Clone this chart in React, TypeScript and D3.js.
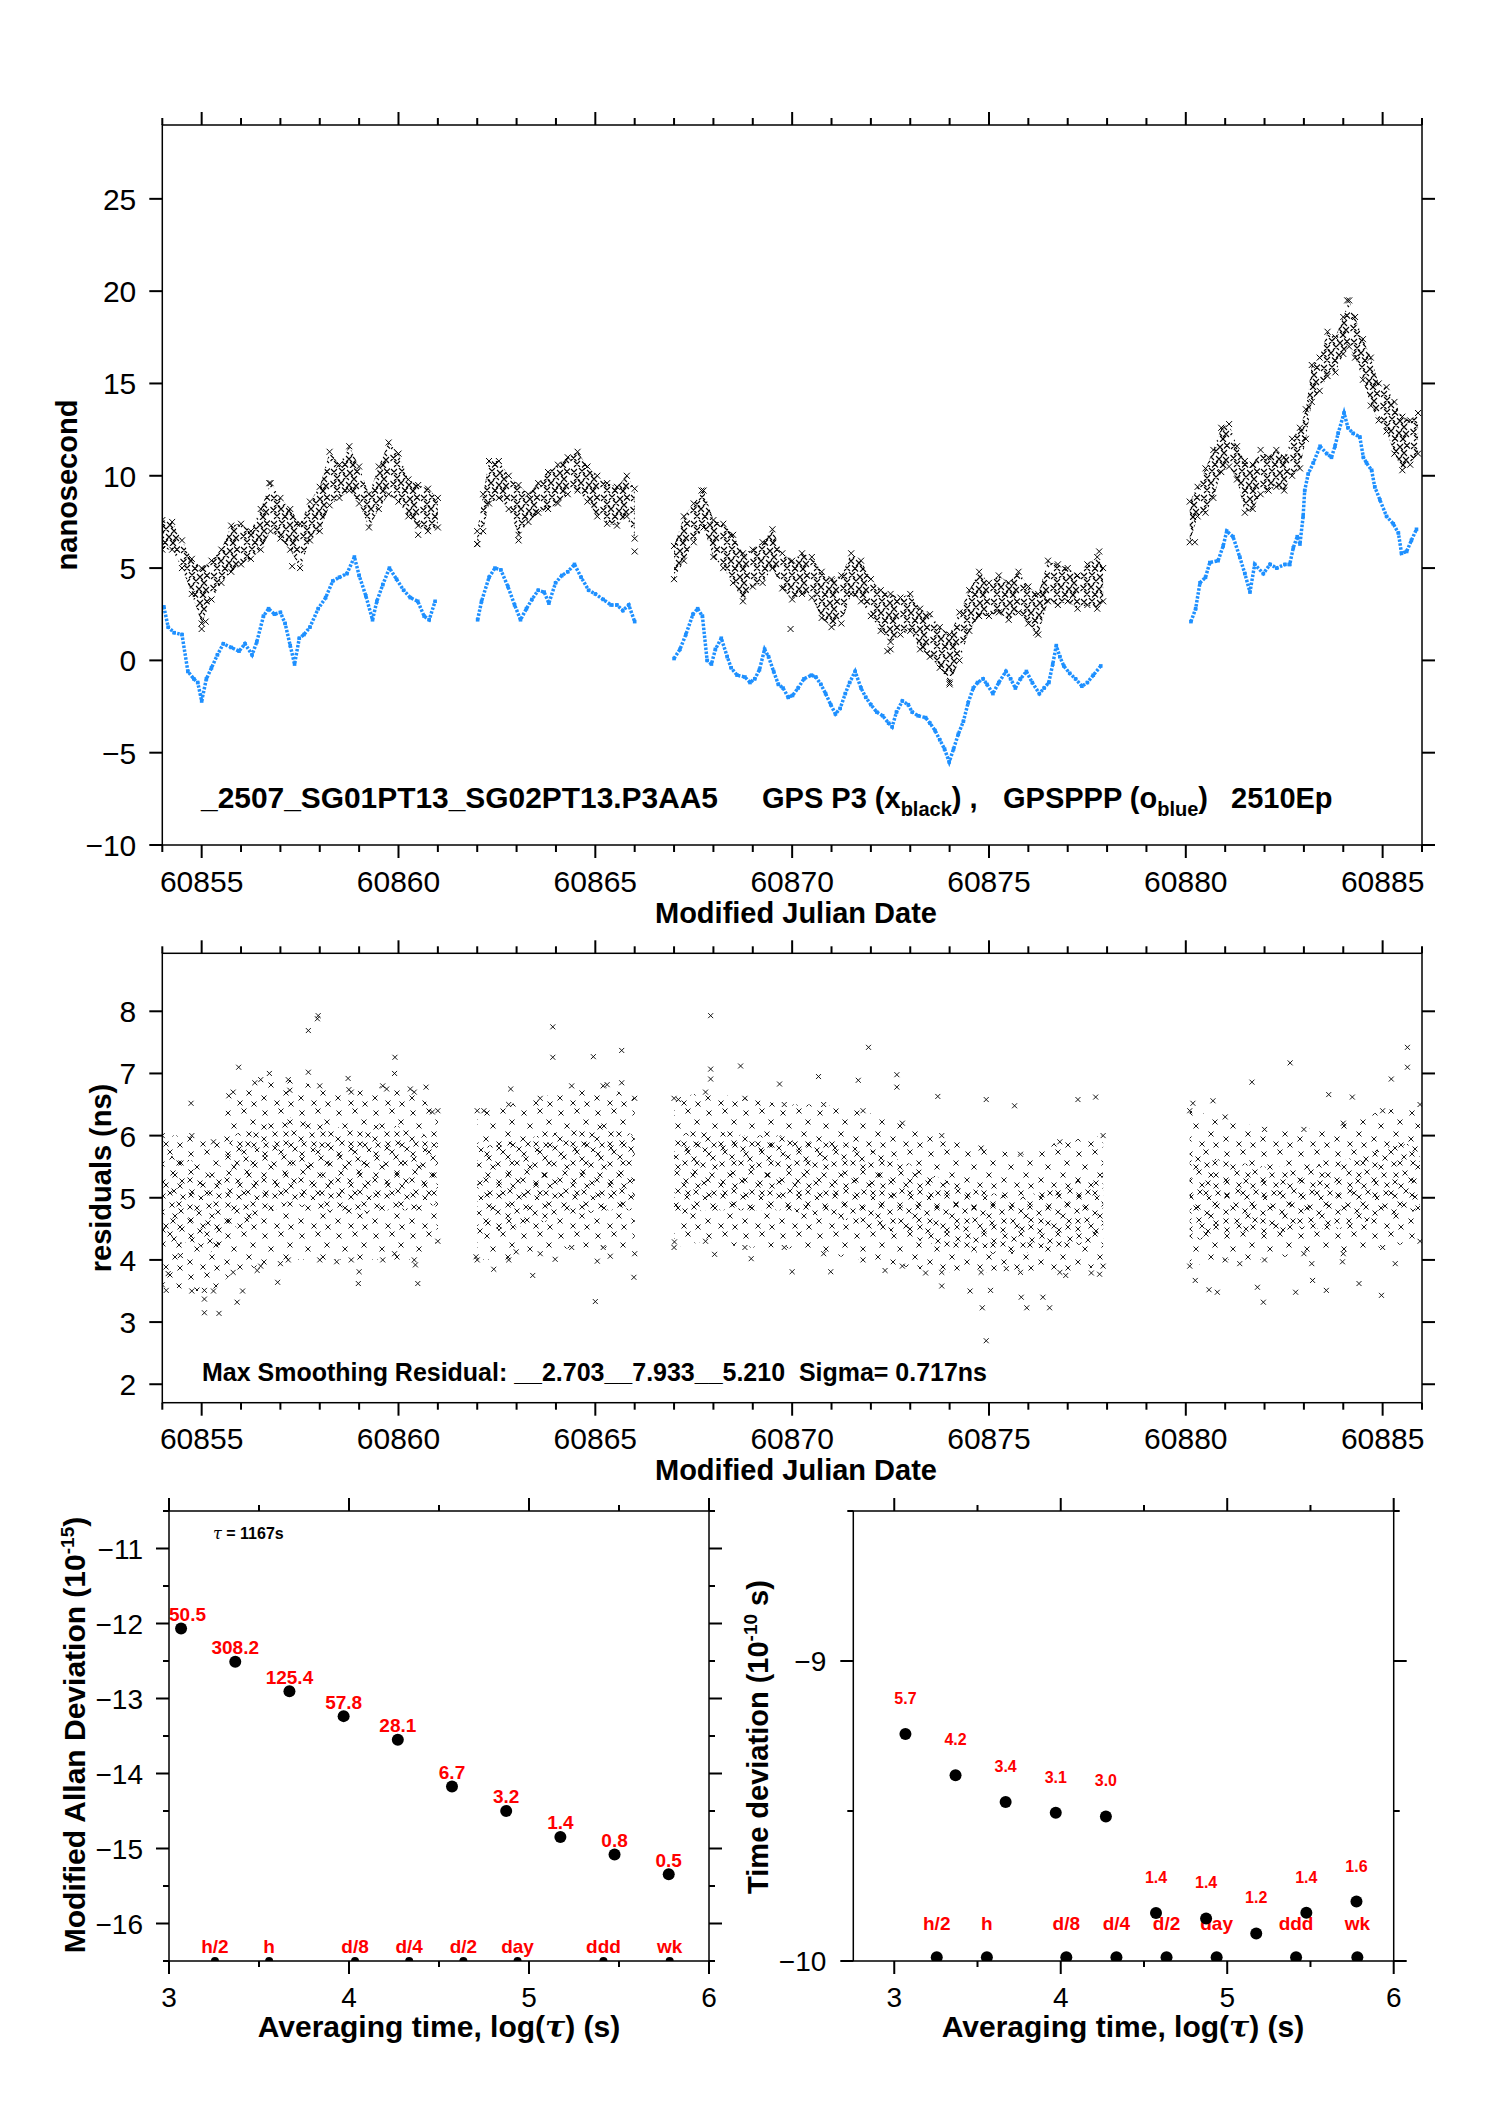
import React from "react";
import * as d3 from "d3";

const W = 1488;
const H = 2105;
const FONT = "'Liberation Sans', Arial, Helvetica, sans-serif";
const RED = "#ff0000";
const BLUE = "#1e90ff";

// ---------- data ----------
// data segments (MJD boundaries between gaps)
const dataSegments: [number, number][] = [
  [60853.9, 60861.5],
  [60861.5, 60866.5],
  [60866.5, 60879.0],
  [60879.0, 60887.0],
];

// GPSPPP (blue) trend, [MJD, ns]
const blueSeries: [number, number][] = [
  [60854.04, 2.9], [60854.15, 1.8], [60854.3, 1.5], [60854.5, 1.4], [60854.65, -0.6], [60854.8, -1.0],
  [60854.9, -1.2], [60855.0, -2.2], [60855.12, -1.0], [60855.25, -0.4], [60855.4, 0.3], [60855.55, 0.9],
  [60855.75, 0.7], [60855.95, 0.5], [60856.1, 0.9], [60856.28, 0.3], [60856.4, 1.0], [60856.57, 2.4],
  [60856.7, 2.8], [60856.85, 2.5], [60857.0, 2.6], [60857.12, 2.0], [60857.25, 0.8], [60857.36, -0.2],
  [60857.48, 1.2], [60857.6, 1.4], [60857.75, 1.8], [60857.96, 2.8], [60858.15, 3.4], [60858.33, 4.3],
  [60858.5, 4.5], [60858.69, 4.7], [60858.88, 5.6], [60859.0, 4.6], [60859.17, 3.5], [60859.34, 2.2],
  [60859.45, 3.2], [60859.6, 4.1], [60859.77, 5.0], [60859.95, 4.4], [60860.13, 3.8], [60860.3, 3.4],
  [60860.49, 3.2], [60860.65, 2.4], [60860.78, 2.2], [60860.93, 3.2],
  [60862.01, 2.2], [60862.11, 3.2], [60862.3, 4.5], [60862.45, 5.0], [60862.6, 4.9], [60862.78, 4.0],
  [60862.95, 3.0], [60863.1, 2.2], [60863.25, 2.8], [60863.39, 3.3], [60863.55, 3.8], [60863.7, 3.7],
  [60863.82, 3.1], [60863.99, 4.2], [60864.15, 4.6], [60864.3, 4.8], [60864.47, 5.2], [60864.64, 4.5],
  [60864.83, 3.8], [60865.0, 3.6], [60865.2, 3.3], [60865.4, 3.0], [60865.55, 3.0], [60865.7, 2.7],
  [60865.85, 3.0], [60866.0, 2.1],
  [60867.0, 0.1], [60867.15, 0.6], [60867.3, 1.4], [60867.48, 2.5], [60867.6, 2.8], [60867.72, 2.4],
  [60867.84, 0.0], [60867.95, -0.2], [60868.05, 0.6], [60868.2, 1.2], [60868.35, 0.2], [60868.45, -0.4],
  [60868.6, -0.8], [60868.8, -0.9], [60868.93, -1.2], [60869.05, -1.0], [60869.17, -0.5], [60869.3, 0.6],
  [60869.4, 0.2], [60869.53, -0.6], [60869.65, -1.3], [60869.77, -1.5], [60869.9, -2.0], [60870.01, -1.9],
  [60870.15, -1.5], [60870.3, -1.0], [60870.49, -0.8], [60870.6, -0.9], [60870.73, -1.3], [60870.85, -1.8],
  [60870.98, -2.4], [60871.1, -2.9], [60871.22, -2.6], [60871.35, -1.8], [60871.46, -1.2], [60871.6, -0.6],
  [60871.75, -1.5], [60871.87, -2.0], [60872.0, -2.4], [60872.15, -2.8], [60872.3, -3.0], [60872.45, -3.4],
  [60872.54, -3.6], [60872.65, -2.8], [60872.8, -2.2], [60872.95, -2.4], [60873.05, -2.8], [60873.2, -3.0],
  [60873.39, -3.1], [60873.5, -3.4], [60873.63, -3.8], [60873.75, -4.3], [60873.87, -4.8], [60873.99, -5.5],
  [60874.1, -4.8], [60874.22, -4.0], [60874.35, -3.3], [60874.47, -2.3], [60874.6, -1.5], [60874.71, -1.2],
  [60874.85, -1.0], [60874.95, -1.3], [60875.1, -1.8], [60875.25, -1.2], [60875.43, -0.6], [60875.55, -1.0],
  [60875.67, -1.5], [60875.8, -1.0], [60875.95, -0.6], [60876.1, -1.2], [60876.28, -1.8], [60876.4, -1.5],
  [60876.52, -1.2], [60876.62, -0.2], [60876.71, 0.8], [60876.8, 0.2], [60876.9, -0.3], [60877.05, -0.7],
  [60877.2, -1.0], [60877.36, -1.4], [60877.5, -1.2], [60877.65, -0.8], [60877.84, -0.3],
  [60880.13, 2.1], [60880.25, 2.8], [60880.36, 4.2], [60880.5, 4.5], [60880.61, 5.3], [60880.82, 5.4],
  [60880.95, 6.2], [60881.04, 7.0], [60881.2, 6.7], [60881.37, 5.6], [60881.5, 4.7], [60881.63, 3.7],
  [60881.75, 5.2], [60881.97, 4.7], [60882.14, 5.2], [60882.31, 5.0], [60882.52, 5.2], [60882.64, 5.2],
  [60882.73, 6.1], [60882.83, 6.7], [60882.9, 6.3], [60882.98, 7.8], [60883.02, 9.2], [60883.11, 10.1],
  [60883.24, 10.7], [60883.41, 11.6], [60883.58, 11.2], [60883.7, 11.0], [60883.79, 11.6], [60883.87, 12.3],
  [60884.02, 13.4], [60884.12, 12.6], [60884.25, 12.3], [60884.42, 12.1], [60884.51, 11.0], [60884.59, 10.7],
  [60884.72, 10.3], [60884.8, 9.4], [60884.93, 8.7], [60885.1, 7.8], [60885.27, 7.4], [60885.4, 6.9],
  [60885.48, 5.8], [60885.61, 5.9], [60885.73, 6.5], [60885.86, 7.1],
];

// GPS P3 (black) cloud envelope, [MJD, upper ns, lower ns]
const blackBand: [number, number, number][] = [
  [60854.0, 7.6, 6.0], [60854.25, 7.5, 6.0], [60854.5, 6.5, 5.0], [60854.75, 5.5, 3.6], [60855.0, 5.0, 2.0],
  [60855.25, 5.4, 3.3], [60855.5, 6.0, 4.2], [60855.75, 7.3, 4.8], [60856.0, 7.4, 5.2], [60856.25, 7.0, 5.5],
  [60856.5, 8.2, 6.0], [60856.75, 9.6, 7.0], [60857.0, 8.8, 6.6], [60857.25, 8.2, 6.0], [60857.5, 7.4, 5.0],
  [60857.75, 8.6, 6.5], [60858.0, 9.4, 7.0], [60858.25, 11.3, 8.4], [60858.5, 10.6, 8.8], [60858.75, 11.6, 9.2],
  [60859.0, 10.5, 8.5], [60859.25, 9.0, 7.2], [60859.5, 10.5, 8.2], [60859.75, 11.8, 9.0], [60860.0, 11.2, 8.6],
  [60860.25, 9.8, 7.8], [60860.5, 9.5, 7.3], [60860.75, 9.3, 7.0], [60861.0, 8.8, 7.2],
  [60862.0, 7.0, 6.3], [60862.15, 9.0, 7.0], [60862.3, 10.8, 8.5], [60862.55, 10.8, 8.8], [60862.8, 10.0, 8.2],
  [60863.05, 9.5, 6.8], [60863.3, 9.0, 7.5], [60863.55, 9.6, 8.0], [60863.8, 10.2, 8.2], [60864.05, 10.6, 8.5],
  [60864.3, 11.0, 9.0], [60864.55, 11.3, 9.2], [60864.8, 10.5, 8.6], [60865.05, 10.0, 7.8], [60865.3, 9.6, 7.4],
  [60865.55, 9.4, 7.3], [60865.8, 10.0, 7.8], [60866.0, 9.3, 6.6],
  [60867.0, 6.2, 4.4], [60867.25, 7.8, 5.4], [60867.5, 8.5, 6.4], [60867.75, 9.2, 7.2], [60868.0, 7.6, 5.6],
  [60868.25, 7.4, 5.0], [60868.5, 6.8, 4.2], [60868.75, 5.8, 3.2], [60869.0, 6.0, 4.0], [60869.25, 6.4, 4.2],
  [60869.5, 7.1, 5.0], [60869.75, 5.8, 3.9], [60870.0, 5.4, 3.3], [60870.25, 5.8, 3.6], [60870.5, 5.6, 3.4],
  [60870.75, 4.8, 2.3], [60871.0, 4.4, 1.8], [60871.25, 4.6, 2.0], [60871.5, 5.8, 3.6], [60871.75, 5.4, 3.2],
  [60872.0, 4.4, 2.4], [60872.25, 3.8, 1.6], [60872.5, 3.6, 1.0], [60872.75, 3.4, 1.4], [60873.0, 3.6, 1.6],
  [60873.25, 2.8, 0.6], [60873.5, 2.5, 0.2], [60873.75, 1.8, -0.4], [60874.0, 1.4, -1.2], [60874.25, 2.6, 0.0],
  [60874.5, 3.8, 1.6], [60874.75, 4.8, 2.4], [60875.0, 4.2, 2.4], [60875.25, 4.6, 2.6], [60875.5, 4.2, 2.2],
  [60875.75, 4.8, 2.6], [60876.0, 4.0, 2.0], [60876.25, 3.6, 1.4], [60876.5, 5.4, 3.2], [60876.75, 5.2, 3.0],
  [60877.0, 5.0, 3.2], [60877.25, 4.6, 2.8], [60877.5, 5.2, 3.0], [60877.75, 5.6, 2.8], [60877.9, 5.0, 3.2],
  [60880.1, 8.6, 6.4], [60880.3, 9.4, 7.8], [60880.5, 10.4, 8.0], [60880.7, 11.4, 8.8], [60880.9, 12.6, 10.2],
  [60881.1, 12.8, 10.5], [60881.3, 11.6, 9.8], [60881.5, 10.8, 8.0], [60881.7, 10.6, 8.2], [60881.9, 11.4, 9.0],
  [60882.1, 11.0, 9.2], [60882.3, 11.4, 9.4], [60882.5, 11.0, 9.2], [60882.7, 12.0, 10.0], [60882.9, 12.6, 10.4],
  [60883.05, 13.6, 12.0], [60883.2, 16.0, 14.0], [60883.4, 16.4, 14.6], [60883.6, 17.8, 15.4], [60883.8, 17.5, 15.6],
  [60884.0, 18.6, 16.6], [60884.15, 19.5, 17.0], [60884.3, 18.6, 16.4], [60884.5, 17.4, 15.2], [60884.7, 16.4, 13.8],
  [60884.9, 15.0, 13.0], [60885.1, 14.8, 12.4], [60885.3, 14.0, 11.2], [60885.5, 13.2, 10.3], [60885.7, 13.0, 10.6],
  [60885.9, 13.4, 11.2],
];

// isolated black crosses outside the cloud, [MJD, ns]
const blackOutliers: [number, number][] = [
  [60855.0, 1.7], [60855.1, 2.1], [60857.3, 5.1], [60862.0, 6.3], [60863.05, 6.5], [60866.0, 5.9],
  [60869.96, 1.7], [60872.42, 0.5], [60872.5, 0.6], [60874.0, -1.3], [60876.2, 1.5], [60877.8, 5.9],
  [60884.1, 19.5], [60880.23, 6.4], [60856.72, 9.6], [60860.5, 6.8], [60867.7, 9.2],
];

// residual cloud, [MJD, outer upper, core upper, core lower, outer lower]
const residualBand: [number, number, number, number, number][] = [
  [60854.0, 6.0, 5.7, 4.2, 3.6], [60854.75, 6.0, 5.6, 4.3, 3.5], [60855.3, 5.9, 5.3, 4.1, 3.5],
  [60855.8, 6.7, 6.0, 4.5, 3.8], [60856.5, 6.9, 6.2, 4.7, 3.9], [60857.2, 6.9, 6.3, 4.9, 4.0],
  [60858.0, 6.8, 6.2, 4.8, 4.0], [60858.8, 6.7, 6.1, 4.7, 4.0], [60859.6, 6.8, 6.2, 4.8, 4.0],
  [60860.4, 6.7, 6.1, 4.8, 4.0], [60861.0, 6.4, 5.9, 4.9, 4.3],
  [60862.0, 6.4, 5.8, 4.4, 4.0], [60862.8, 6.5, 5.9, 4.5, 4.0], [60863.6, 6.6, 6.0, 4.6, 4.1],
  [60864.4, 6.8, 6.1, 4.7, 4.2], [60865.2, 6.8, 6.2, 4.8, 4.2], [60866.0, 6.6, 6.0, 4.8, 4.1],
  [60867.0, 6.6, 6.0, 4.7, 4.2], [60867.8, 6.7, 6.1, 4.8, 4.3], [60868.8, 6.6, 6.0, 4.8, 4.2],
  [60869.8, 6.5, 6.0, 4.8, 4.2], [60870.8, 6.5, 5.9, 4.7, 4.1], [60871.8, 6.4, 5.8, 4.6, 4.0],
  [60872.8, 6.2, 5.6, 4.4, 3.9], [60873.8, 6.0, 5.3, 4.2, 3.8], [60874.8, 5.8, 5.1, 4.1, 3.8],
  [60875.8, 5.7, 5.0, 4.1, 3.8], [60876.8, 5.9, 5.2, 4.2, 3.8], [60877.9, 6.0, 5.4, 4.3, 3.9],
  [60880.1, 6.4, 5.7, 4.3, 3.9], [60881.0, 6.3, 5.6, 4.4, 4.0], [60882.0, 6.1, 5.5, 4.4, 4.0],
  [60883.0, 6.1, 5.5, 4.5, 4.1], [60884.0, 6.2, 5.6, 4.5, 4.1], [60885.0, 6.4, 5.8, 4.7, 4.2],
  [60885.95, 6.5, 5.9, 4.8, 4.3],
];

// individually visible residual crosses, [MJD, ns]
const residualOutliers: [number, number][] = [
  [60854.73, 6.52], [60854.1, 3.51], [60855.07, 3.51], [60855.07, 3.37], [60855.07, 3.15], [60855.44, 3.14],
  [60855.94, 7.1], [60855.69, 6.64], [60856.35, 6.85], [60856.72, 7.0], [60857.24, 6.73], [60857.71, 7.02],
  [60857.71, 7.69], [60857.94, 7.88], [60857.96, 7.93], [60858.72, 6.92], [60858.74, 6.74], [60859.91, 7.26],
  [60859.9, 7.0], [60859.7, 6.75], [60860.3, 6.75], [60860.7, 6.78], [60860.86, 6.38], [60855.9, 3.32],
  [60856.04, 3.5], [60856.41, 3.83], [60856.93, 3.64], [60857.0, 3.94], [60858.98, 3.62], [60859.0, 3.81],
  [60860.49, 3.62], [60860.43, 3.92], [60858.43, 3.97], [60859.9, 4.1], [60854.46, 4.07], [60854.15, 3.78],
  [60863.92, 7.75], [60863.92, 7.26], [60864.95, 7.27], [60865.67, 7.37], [60865.3, 6.82], [60865.67, 6.85],
  [60862.85, 6.75], [60862.17, 6.4], [60863.41, 3.75], [60865.0, 3.33], [60865.98, 3.72], [60862.42, 3.85],
  [60861.97, 4.05], [60862.99, 4.13], [60863.98, 4.01], [60865.05, 3.98], [60865.38, 4.06],
  [60867.93, 7.93], [60867.93, 7.07], [60867.93, 6.91], [60868.69, 7.12], [60869.68, 6.83], [60870.67, 6.95],
  [60871.68, 6.89], [60871.94, 7.42], [60872.66, 6.98], [60872.66, 6.78], [60873.7, 6.63], [60874.93, 6.58],
  [60875.65, 6.48], [60877.26, 6.58], [60877.71, 6.62], [60867.11, 6.58], [60870.0, 3.81], [60870.98, 3.81],
  [60872.36, 3.83], [60873.8, 3.58], [60874.52, 3.5], [60874.83, 3.23], [60874.93, 2.7], [60875.04, 3.51],
  [60875.82, 3.4], [60875.96, 3.23], [60876.37, 3.4], [60876.54, 3.23], [60876.95, 3.75], [60877.6, 3.79],
  [60868.03, 4.09], [60868.96, 4.02], [60873.39, 3.79], [60875.44, 3.86], [60877.81, 3.77], [60867.01, 4.29],
  [60880.18, 6.52], [60880.69, 6.56], [60881.68, 6.86], [60882.65, 7.17], [60883.63, 6.66], [60884.23, 6.62],
  [60885.22, 6.91], [60885.63, 7.42], [60885.63, 7.1], [60880.24, 3.67], [60880.59, 3.52], [60880.8, 3.48],
  [60881.82, 3.56], [60881.97, 3.32], [60882.79, 3.48], [60883.22, 3.67], [60883.57, 3.51], [60884.4, 3.62],
  [60884.97, 3.43], [60885.32, 3.94], [60881.37, 3.94], [60883.2, 3.94], [60883.98, 3.97],
];

// stability analysis
const tauSeconds = [1167, 2334, 4668, 9336, 18672, 37344, 74688, 149376, 298752, 597504];
const mdevLog = [-12.068, -12.511, -12.902, -13.235, -13.55, -14.174, -14.499, -14.846, -15.08, -15.342];
const mdevLabels = ["50.5", "308.2", "125.4", "57.8", "28.1", "6.7", "3.2", "1.4", "0.8", "0.5"];
const tdevLog = [-9.243, -9.381, -9.47, -9.506, -9.518, -9.84, -9.858, -9.908, -9.839, -9.802];
const tdevLabels = ["5.7", "4.2", "3.4", "3.1", "3.0", "1.4", "1.4", "1.2", "1.4", "1.6"];
const markerTau = [1800, 3600, 10800, 21600, 43200, 86400, 259200, 604800];
const markerLabels = ["h/2", "h", "d/8", "d/4", "d/2", "day", "ddd", "wk"];

// tick values
const mjdMajor = [60855, 60860, 60865, 60870, 60875, 60880, 60885];
const mjdMinor = d3.range(60854, 60887, 1).filter((v) => !mjdMajor.includes(v));
const nsMajor = [-10, -5, 0, 5, 10, 15, 20, 25];
const resMajor = [2, 3, 4, 5, 6, 7, 8];
const logMajor = [3, 4, 5, 6];
const logMinor = [3.5, 4.5, 5.5];
const mdevMajor = [-16, -15, -14, -13, -12, -11];
const mdevMinor = [-16.5, -15.5, -14.5, -13.5, -12.5, -11.5, -10.5];
const tdevMajor = [-10, -9];
const tdevMinor = [-9.5, -8.5];

// ---------- texture tiles used to render the dense cross clouds ----------
const PAT_BLACK = [
  [4, 4], [12, 3], [20, 5], [27, 3.5], [7, 10], [16, 9], [24, 11], [3.5, 16], [11, 15],
  [19, 17], [26, 18], [7, 22], [15, 22.5], [23, 23],
];
const PAT_RES_CORE = [
  [4, 5], [22, 7], [41, 6], [13, 11], [31, 13], [50, 12], [5, 21], [23, 20], [40, 23],
  [14, 29], [32, 31], [51, 30], [6, 39], [24, 40], [42, 41], [15, 45], [33, 46], [51, 44],
];
const PAT_RES_OUTER = [[6, 6], [22, 4], [31, 15], [12, 19], [27, 27], [5, 32], [18, 37], [32, 38]];

const cross = (cx: number, cy: number, h: number) =>
  `M${cx - h},${cy - h}L${cx + h},${cy + h}M${cx - h},${cy + h}L${cx + h},${cy - h}`;

function groupBySegment<T extends number[]>(rows: T[]): T[][] {
  const groups: T[][] = dataSegments.map(() => []);
  rows.forEach((r) => {
    const s = dataSegments.findIndex(([a, b]) => r[0] >= a && r[0] < b);
    if (s >= 0) groups[s].push(r);
  });
  return groups.filter((g) => g.length > 0);
}

type AxesProps = {
  xs: d3.ScaleLinear<number, number>;
  ys: d3.ScaleLinear<number, number>;
  xMajor: number[];
  xMinor: number[];
  yMajor: number[];
  yMinor: number[];
  xFmt: (v: number) => string;
  yFmt: (v: number) => string;
  majorLen: number;
  minorLen: number;
  xLabelDy: number;
  yLabelDx: number;
  yLabelDy: number;
  labelSize: number;
};

function Axes(p: AxesProps) {
  const [xl, xr] = p.xs.range();
  const [yb, yt] = p.ys.range();
  const tk = { stroke: "#000", strokeWidth: 2 };
  return (
    <g>
      <rect x={xl} y={yt} width={xr - xl} height={yb - yt} fill="none" stroke="#000" strokeWidth={1.5} />
      {p.xMajor.map((v) => (
        <g key={"xM" + v}>
          <line x1={p.xs(v)} x2={p.xs(v)} y1={yb} y2={yb + p.majorLen} {...tk} />
          <line x1={p.xs(v)} x2={p.xs(v)} y1={yt} y2={yt - p.majorLen} {...tk} />
          <text x={p.xs(v)} y={yb + p.xLabelDy} textAnchor="middle" fontSize={p.labelSize} fontFamily={FONT}>
            {p.xFmt(v)}
          </text>
        </g>
      ))}
      {p.xMinor.map((v) => (
        <g key={"xm" + v}>
          <line x1={p.xs(v)} x2={p.xs(v)} y1={yb} y2={yb + p.minorLen} {...tk} />
          <line x1={p.xs(v)} x2={p.xs(v)} y1={yt} y2={yt - p.minorLen} {...tk} />
        </g>
      ))}
      {p.yMajor.map((v) => (
        <g key={"yM" + v}>
          <line x1={xl} x2={xl - p.majorLen} y1={p.ys(v)} y2={p.ys(v)} {...tk} />
          <line x1={xr} x2={xr + p.majorLen} y1={p.ys(v)} y2={p.ys(v)} {...tk} />
          <text x={xl - p.yLabelDx} y={p.ys(v) + p.yLabelDy} textAnchor="end" fontSize={p.labelSize} fontFamily={FONT}>
            {p.yFmt(v)}
          </text>
        </g>
      ))}
      {p.yMinor.map((v) => (
        <g key={"ym" + v}>
          <line x1={xl} x2={xl - p.minorLen} y1={p.ys(v)} y2={p.ys(v)} {...tk} />
          <line x1={xr} x2={xr + p.minorLen} y1={p.ys(v)} y2={p.ys(v)} {...tk} />
        </g>
      ))}
    </g>
  );
}

const clipRect = (id: string, xs: d3.ScaleLinear<number, number>, ys: d3.ScaleLinear<number, number>) => {
  const [xl, xr] = xs.range();
  const [yb, yt] = ys.range();
  return (
    <clipPath id={id} key={id}>
      <rect x={xl} y={yt} width={xr - xl} height={yb - yt} />
    </clipPath>
  );
};

export default function App() {
  const x1 = d3.scaleLinear().domain([60854, 60886]).range([162.3, 1422]);
  const y1 = d3.scaleLinear().domain([-10, 29]).range([845, 125]);
  const y2 = d3.scaleLinear().domain([1.703, 8.933]).range([1402.7, 953.3]);
  const x3 = d3.scaleLinear().domain([3, 6]).range([169, 709]);
  const y3 = d3.scaleLinear().domain([-16.5, -10.5]).range([1961, 1511]);
  const x4 = d3.scaleLinear().domain([2.754, 6]).range([853.3, 1393.7]);
  const y4 = d3.scaleLinear().domain([-10, -8.5]).range([1961, 1511]);

  const fmtInt = d3.format("d");

  const blueGroups = groupBySegment(blueSeries);
  const blackGroups = groupBySegment(blackBand);
  const resGroups = groupBySegment(residualBand);

  const blueLine = d3
    .line<[number, number]>()
    .x((d) => x1(d[0]))
    .y((d) => y1(d[1]));
  const blackArea = d3
    .area<[number, number, number]>()
    .x((d) => x1(d[0]))
    .y0((d) => y1(d[2]))
    .y1((d) => y1(d[1]));
  const resOuter = d3
    .area<[number, number, number, number, number]>()
    .x((d) => x1(d[0]))
    .y0((d) => y2(d[4]))
    .y1((d) => y2(d[1]));
  const resCore = d3
    .area<[number, number, number, number, number]>()
    .x((d) => x1(d[0]))
    .y0((d) => y2(d[3]))
    .y1((d) => y2(d[2]));

  const patPath = (pts: number[][], h: number) => pts.map(([a, b]) => cross(a, b, h)).join("");

  const logTau = tauSeconds.map((t) => Math.log10(t));
  const logMarker = markerTau.map((t) => Math.log10(t));

  return (
    <div style={{ position: "absolute", left: 0, top: 0, width: W, height: H, background: "#fff" }}>
      <svg width={W} height={H} viewBox={`0 0 ${W} ${H}`} style={{ display: "block", background: "#fff" }}>
        <defs>
          {clipRect("c1", x1, y1)}
          {clipRect("c2", x1, y2)}
          {clipRect("c3", x3, y3)}
          {clipRect("c4", x4, y4)}
          <pattern id="patBlack" patternUnits="userSpaceOnUse" width={30} height={26}>
            <path d={patPath(PAT_BLACK, 3)} stroke="#000" strokeWidth={1.1} fill="none" />
          </pattern>
          <pattern id="patResCore" patternUnits="userSpaceOnUse" width={56} height={48}>
            <path d={patPath(PAT_RES_CORE, 2.5)} stroke="#000" strokeWidth={0.9} fill="none" />
          </pattern>
          <pattern id="patResOuter" patternUnits="userSpaceOnUse" width={37} height={41}>
            <path d={patPath(PAT_RES_OUTER, 2.5)} stroke="#000" strokeWidth={0.9} fill="none" />
          </pattern>
        </defs>

        {/* ---------------- Panel 1 ---------------- */}
        <g clipPath="url(#c1)">
          {blackGroups.map((g, i) => (
            <path key={"ba" + i} d={blackArea(g) || ""} fill="url(#patBlack)" stroke="none" />
          ))}
          {blackBand.map((d, i) => (
            <g key={"bx" + i}>
              <path d={cross(x1(d[0]), y1(d[1]), 3)} stroke="#000" strokeWidth={1} />
              <path d={cross(x1(d[0]), y1(d[2]), 3)} stroke="#000" strokeWidth={1} />
            </g>
          ))}
          {blackOutliers.map((d, i) => (
            <path key={"bo" + i} d={cross(x1(d[0]), y1(d[1]), 3)} stroke="#000" strokeWidth={1} />
          ))}
          {blueGroups.map((g, i) => (
            <path
              key={"bl" + i}
              d={blueLine(g as [number, number][]) || ""}
              fill="none"
              stroke={BLUE}
              strokeWidth={3.5}
              strokeDasharray="2.5 1.5"
            />
          ))}
          {blueSeries.map((d, i) => (
            <rect key={"bs" + i} x={x1(d[0]) - 1.8} y={y1(d[1]) - 1.8} width={3.6} height={3.6} fill={BLUE} />
          ))}
        </g>
        <Axes
          xs={x1}
          ys={y1}
          xMajor={mjdMajor}
          xMinor={mjdMinor}
          yMajor={nsMajor}
          yMinor={[]}
          xFmt={fmtInt}
          yFmt={fmtInt}
          majorLen={13}
          minorLen={7}
          xLabelDy={47}
          yLabelDx={26}
          yLabelDy={11}
          labelSize={30}
        />
        <text x={201} y={808} fontFamily={FONT} fontWeight="bold" fontSize={29} textLength={517} lengthAdjust="spacingAndGlyphs">
          _2507_SG01PT13_SG02PT13.P3AA5
        </text>
        <text x={762} y={808} fontFamily={FONT} fontWeight="bold" fontSize={29} style={{ whiteSpace: "pre" }}>
          GPS P3 (x
          <tspan fontSize={20} dy={8}>
            black
          </tspan>
          <tspan dy={-8}>) ,</tspan>
        </text>
        <text x={1003} y={808} fontFamily={FONT} fontWeight="bold" fontSize={29} style={{ whiteSpace: "pre" }}>
          GPSPPP (o
          <tspan fontSize={20} dy={8}>
            blue
          </tspan>
          <tspan dy={-8}>)</tspan>
        </text>
        <text x={1231} y={808} fontFamily={FONT} fontWeight="bold" fontSize={29}>
          2510Ep
        </text>
        <text x={796} y={923} textAnchor="middle" fontFamily={FONT} fontWeight="bold" fontSize={29}>
          Modified Julian Date
        </text>
        <text transform="translate(77,485) rotate(-90)" textAnchor="middle" fontFamily={FONT} fontWeight="bold" fontSize={29}>
          nanosecond
        </text>

        {/* ---------------- Panel 2 ---------------- */}
        <g clipPath="url(#c2)">
          {resGroups.map((g, i) => (
            <g key={"rg" + i}>
              <path d={resOuter(g) || ""} fill="url(#patResOuter)" stroke="none" />
              <path d={resCore(g) || ""} fill="url(#patResCore)" stroke="none" />
            </g>
          ))}
          {residualBand.map((d, i) => (
            <g key={"rb" + i}>
              <path d={cross(x1(d[0]), y2(d[1]), 2.5)} stroke="#000" strokeWidth={0.9} />
              <path d={cross(x1(d[0]), y2(d[4]), 2.5)} stroke="#000" strokeWidth={0.9} />
            </g>
          ))}
          {residualOutliers.map((d, i) => (
            <path key={"ro" + i} d={cross(x1(d[0]), y2(d[1]), 2.5)} stroke="#000" strokeWidth={0.9} />
          ))}
        </g>
        <Axes
          xs={x1}
          ys={y2}
          xMajor={mjdMajor}
          xMinor={mjdMinor}
          yMajor={resMajor}
          yMinor={[]}
          xFmt={fmtInt}
          yFmt={fmtInt}
          majorLen={13}
          minorLen={7}
          xLabelDy={46.5}
          yLabelDx={26}
          yLabelDy={11}
          labelSize={30}
        />
        <text x={202} y={1380.5} fontFamily={FONT} fontWeight="bold" fontSize={25} textLength={785} lengthAdjust="spacingAndGlyphs" style={{ whiteSpace: "pre" }}>
          {"Max Smoothing Residual: __2.703__7.933__5.210  Sigma= 0.717ns"}
        </text>
        <text x={796} y={1480} textAnchor="middle" fontFamily={FONT} fontWeight="bold" fontSize={29}>
          Modified Julian Date
        </text>
        <text transform="translate(111,1178) rotate(-90)" textAnchor="middle" fontFamily={FONT} fontWeight="bold" fontSize={29}>
          residuals (ns)
        </text>

        {/* ---------------- Panel 3 : MDEV ---------------- */}
        <g clipPath="url(#c3)">
          {logMarker.map((v, i) => (
            <text key={"ml" + i} x={x3(v)} y={y3(-16.5) - 7.7} textAnchor="middle" fill={RED} fontFamily={FONT} fontWeight="bold" fontSize={19}>
              {markerLabels[i]}
            </text>
          ))}
          {logMarker.map((v, i) => (
            <circle key={"mm" + i} cx={x3(v)} cy={y3(-16.5)} r={4} fill="#000" />
          ))}
          {logTau.map((v, i) => (
            <text
              key={"pl" + i}
              x={i === 0 ? x3.range()[0] : x3(v)}
              y={y3(mdevLog[i]) - 7.5}
              textAnchor={i === 0 ? "start" : "middle"}
              fill={RED}
              fontFamily={FONT}
              fontWeight="bold"
              fontSize={19}
            >
              {mdevLabels[i]}
            </text>
          ))}
          {logTau.map((v, i) => (
            <circle key={"pp" + i} cx={x3(v)} cy={y3(mdevLog[i])} r={6} fill="#000" />
          ))}
        </g>
        <Axes
          xs={x3}
          ys={y3}
          xMajor={logMajor}
          xMinor={logMinor}
          yMajor={mdevMajor}
          yMinor={mdevMinor}
          xFmt={fmtInt}
          yFmt={fmtInt}
          majorLen={13}
          minorLen={6}
          xLabelDy={46}
          yLabelDx={26}
          yLabelDy={10}
          labelSize={28}
        />
        <text x={213} y={1539} fontFamily={FONT} fontWeight="bold" fontSize={16} style={{ whiteSpace: "pre" }}>
          <tspan fontFamily="'DejaVu Serif', serif" fontStyle="italic" fontWeight="normal">
            τ
          </tspan>
          {" = 1167s"}
        </text>
        <text x={439} y={2037} textAnchor="middle" fontFamily={FONT} fontWeight="bold" fontSize={30}>
          Averaging time, log(
          <tspan fontFamily="'DejaVu Serif', serif" fontStyle="italic">
            τ
          </tspan>
          ) (s)
        </text>
        <text transform="translate(85,1735) rotate(-90)" textAnchor="middle" fontFamily={FONT} fontWeight="bold" fontSize={30}>
          Modified Allan Deviation (10
          <tspan fontSize={19} dy={-11}>
            -15
          </tspan>
          <tspan dy={11}>)</tspan>
        </text>

        {/* ---------------- Panel 4 : TDEV ---------------- */}
        <g clipPath="url(#c4)">
          {logMarker.map((v, i) => (
            <text key={"tl" + i} x={x4(v)} y={y4(-10) - 31} textAnchor="middle" fill={RED} fontFamily={FONT} fontWeight="bold" fontSize={19}>
              {markerLabels[i]}
            </text>
          ))}
          {logTau.map((v, i) => (
            <text key={"tpl" + i} x={x4(v)} y={y4(tdevLog[i]) - 30} textAnchor="middle" fill={RED} fontFamily={FONT} fontWeight="bold" fontSize={16}>
              {tdevLabels[i]}
            </text>
          ))}
          {logMarker.map((v, i) => (
            <circle key={"tm" + i} cx={x4(v)} cy={y4(-10) - 3.7} r={6} fill="#000" />
          ))}
          {logTau.map((v, i) => (
            <circle key={"tp" + i} cx={x4(v)} cy={y4(tdevLog[i])} r={6} fill="#000" />
          ))}
        </g>
        <Axes
          xs={x4}
          ys={y4}
          xMajor={logMajor}
          xMinor={logMinor}
          yMajor={tdevMajor}
          yMinor={tdevMinor}
          xFmt={fmtInt}
          yFmt={fmtInt}
          majorLen={13}
          minorLen={6}
          xLabelDy={46}
          yLabelDx={27}
          yLabelDy={10}
          labelSize={28}
        />
        <text x={1123} y={2037} textAnchor="middle" fontFamily={FONT} fontWeight="bold" fontSize={30}>
          Averaging time, log(
          <tspan fontFamily="'DejaVu Serif', serif" fontStyle="italic">
            τ
          </tspan>
          ) (s)
        </text>
        <text transform="translate(768,1737) rotate(-90)" textAnchor="middle" fontFamily={FONT} fontWeight="bold" fontSize={29}>
          Time deviation (10
          <tspan fontSize={19} dy={-11}>
            -10
          </tspan>
          <tspan dy={11}> s)</tspan>
        </text>
      </svg>
    </div>
  );
}
